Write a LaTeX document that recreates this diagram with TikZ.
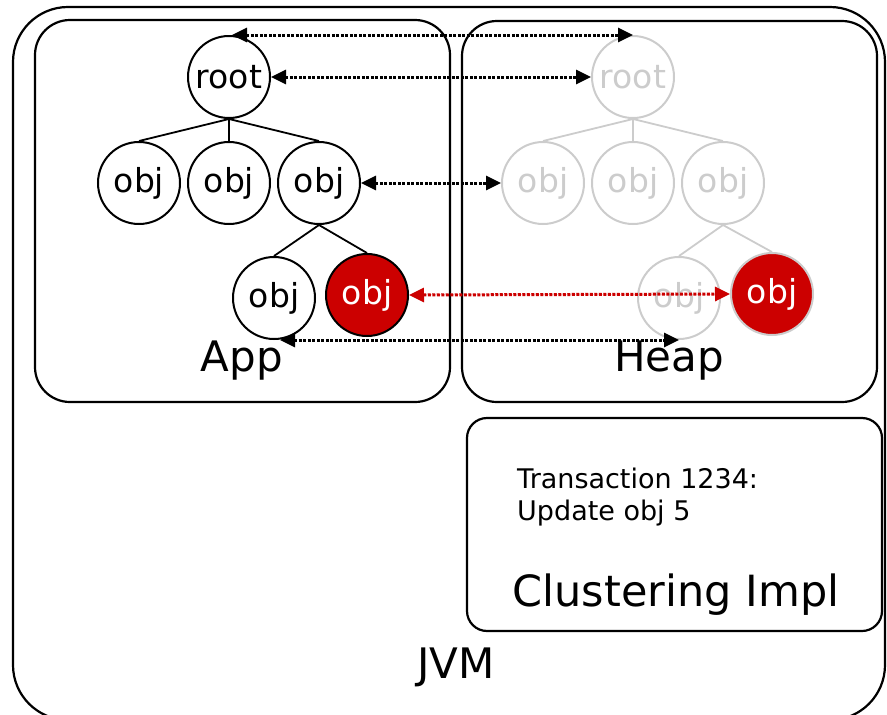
\documentclass[tikz,border=0pt]{standalone}
\usepackage{fontspec}
\setmainfont{DejaVu Sans}
\usetikzlibrary{arrows.meta}
\definecolor{objred}{RGB}{204,0,0}
\definecolor{ghost}{RGB}{204,204,204}
\tikzset{
  objnode/.style={circle, draw, line width=2pt, minimum size=82pt, inner sep=0pt,
    font=\fontsize{33}{40}\selectfont},
  ghostnode/.style={objnode, draw=ghost, text=ghost},
  rednode/.style={objnode, fill=objred, text=white},
  box/.style={draw, line width=2.2pt},
  treeline/.style={line width=1.8pt},
  ghostline/.style={line width=1.8pt, draw=ghost},
  link/.style={line width=3pt, dash pattern=on 3pt off 1.5pt,
    {Triangle[length=15pt,width=14pt]}-{Triangle[length=15pt,width=14pt]}},
  biglabel/.style={font=\fontsize{42}{50}\selectfont}
}
\begin{document}
\begin{tikzpicture}[x=1pt,y=-1pt]
\useasboundingbox (0,0) rectangle (887,715);

% containers
\draw[box, rounded corners=55pt] (13,7) rectangle (885,720);
\draw[box, rounded corners=35pt] (35,20) rectangle (450,402);
\draw[box, rounded corners=35pt] (462,21) rectangle (877,402);
\draw[box, rounded corners=20pt] (467,418) rectangle (882,631);

% application object graph
\node[objnode] (root) at (229,77) {root};
\node[objnode] (o1) at (139,183) {obj};
\node[objnode] (o2) at (229,183) {obj};
\node[objnode] (o3) at (319,183) {obj};
\node[objnode] (o4) at (274,298) {obj};
\node[rednode] (o5) at (367,295) {obj};
\draw[treeline] (root.south) -- (o1.north);
\draw[treeline] (root.south) -- (o2.north);
\draw[treeline] (root.south) -- (o3.north);
\draw[treeline] (o3.south) -- (o4.north);
\draw[treeline] (o3.south) -- (o5.north);

% heap copy of the graph
\node[ghostnode] (hroot) at (633,77) {root};
\node[ghostnode] (h1) at (543,183) {obj};
\node[ghostnode] (h2) at (633,183) {obj};
\node[ghostnode] (h3) at (723,183) {obj};
\node[ghostnode] (h4) at (679,298) {obj};
\node[rednode, draw=ghost] (h5) at (772,294) {obj};
\draw[ghostline] (hroot.south) -- (h1.north);
\draw[ghostline] (hroot.south) -- (h2.north);
\draw[ghostline] (hroot.south) -- (h3.north);
\draw[ghostline] (h3.south) -- (h4.north);
\draw[ghostline] (h3.south) -- (h5.north);

% links between app objects and heap objects
\draw[link] ([xshift=3pt]root.north) -- (hroot.north);
\draw[link] (root.east) -- (hroot.west);
\draw[link] (o3.east) -- (h1.west);
\draw[link, draw=objred, fill=objred] (o5.east) -- (h5.west);
\draw[link] ([xshift=6pt]o4.south) -- (h4.south);

% labels
\node[biglabel] (app) at (242,361) {App};
\node[biglabel] (heap) at (669,361) {Heap};
\node[biglabel, font=\fontsize{43}{50}\selectfont] (clus) at (676,595) {Clustering Impl};
\node[biglabel] (jvm) at (456,667) {JVM};
\node[anchor=base west, align=left, inner sep=0pt,
  font=\fontsize{27}{32}\selectfont] (tx) at (517,520) {Transaction 1234:\\Update obj 5};
\end{tikzpicture}
\end{document}
